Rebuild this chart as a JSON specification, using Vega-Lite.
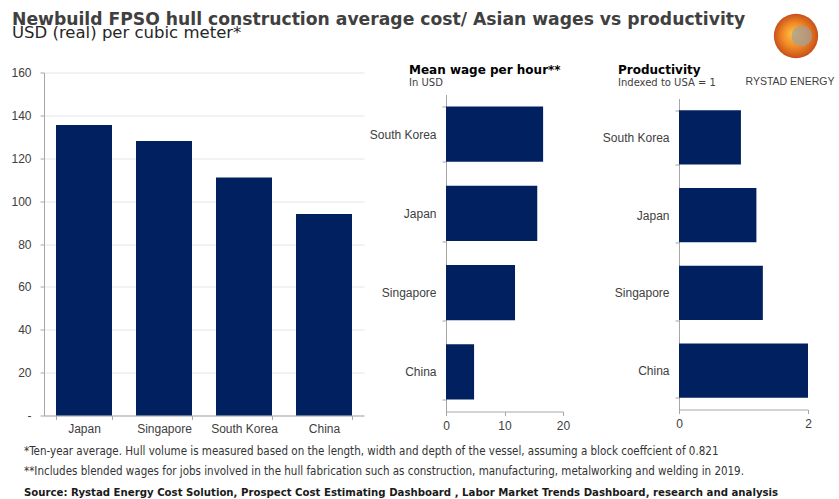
{
  "$schema": "https://vega.github.io/schema/vega-lite/v6.json",
  "padding": {"left": 10, "top": 8, "right": 4, "bottom": 0},
  "background": "white",
  "config": {
    "view": {"stroke": null},
    "font": "Liberation Sans",
    "axis": {
      "labelFont": "Liberation Sans",
      "labelFontSize": 12,
      "labelColor": "#404040",
      "domainColor": "#a6a6a6",
      "tickColor": "#a6a6a6",
      "tickSize": 4,
      "title": null,
      "grid": false
    },
    "title": {
      "font": "DejaVu Sans",
      "fontSize": 12,
      "fontWeight": "bold",
      "color": "#000000",
      "subtitleFont": "DejaVu Sans",
      "subtitleFontSize": 10,
      "subtitleColor": "#404040",
      "subtitlePadding": 1
    }
  },
  "datasets": {
    "cost": [
      {"country": "Japan", "cost": 135.5},
      {"country": "Singapore", "cost": 128},
      {"country": "South Korea", "cost": 111},
      {"country": "China", "cost": 94}
    ],
    "wage": [
      {"country": "South Korea", "wage": 16.6},
      {"country": "Japan", "wage": 15.6},
      {"country": "Singapore", "wage": 11.8},
      {"country": "China", "wage": 4.8}
    ],
    "prod": [
      {"country": "South Korea", "productivity": 0.96},
      {"country": "Japan", "productivity": 1.2},
      {"country": "Singapore", "productivity": 1.3},
      {"country": "China", "productivity": 2.0}
    ],
    "notes": [
      {"line": 1, "text": "*Ten-year average. Hull volume is measured based on the length, width and depth of the vessel, assuming a block coeffcient of 0.821"},
      {"line": 2, "text": "**Includes blended wages for jobs involved in the hull fabrication such as construction, manufacturing, metalworking and welding in 2019."}
    ],
    "source": [
      {"line": 3, "text": "Source: Rystad Energy Cost Solution, Prospect Cost Estimating Dashboard , Labor Market Trends Dashboard, research and analysis"}
    ],
    "header": [
      {
        "title": "Newbuild FPSO hull construction average cost/ Asian wages vs productivity",
        "subtitle": "USD (real) per cubic meter*",
        "brand": "RYSTAD ENERGY"
      }
    ]
  },
  "concat": [
    {
      "concat": [
        {
          "width": 791,
          "height": 80,
          "data": {"name": "header"},
          "layer": [
            {
              "mark": {"type": "text", "font": "DejaVu Sans", "fontSize": 17.2, "fontWeight": "bold", "color": "#404040", "align": "left", "baseline": "alphabetic"},
              "encoding": {
                "x": {"datum": -0.04046, "type": "quantitative", "scale": {"domain": [0, 1], "nice": false, "zero": false}, "axis": null},
                "y": {"datum": 0.7875, "type": "quantitative", "scale": {"domain": [0, 1], "nice": false, "zero": false}, "axis": null},
                "text": {"field": "title"}
              }
            },
            {
              "mark": {"type": "text", "font": "DejaVu Sans", "fontSize": 16.5, "color": "#262626", "align": "left", "baseline": "alphabetic"},
              "encoding": {
                "x": {"datum": -0.04046, "type": "quantitative"},
                "y": {"datum": 0.625, "type": "quantitative"},
                "text": {"field": "subtitle"}
              }
            },
            {
              "mark": {
                "type": "point",
                "shape": "circle",
                "filled": true,
                "size": 1963,
                "opacity": 1,
                "color": {
                  "gradient": "radial",
                  "x1": 0.42, "y1": 0.45, "r1": 0,
                  "x2": 0.5, "y2": 0.5, "r2": 0.5,
                  "stops": [
                    {"offset": 0, "color": "#ffc247"},
                    {"offset": 0.55, "color": "#f08a24"},
                    {"offset": 1, "color": "#c8501c"}
                  ]
                }
              },
              "encoding": {
                "x": {"datum": 0.9507, "type": "quantitative"},
                "y": {"datum": 0.65, "type": "quantitative"}
              }
            },
            {
              "mark": {"type": "point", "shape": "circle", "filled": true, "size": 420, "opacity": 0.7, "color": "#a0a0a0"},
              "encoding": {
                "x": {"datum": 0.958, "type": "quantitative"},
                "y": {"datum": 0.65, "type": "quantitative"}
              }
            },
            {
              "mark": {"type": "text", "font": "Liberation Sans", "fontSize": 10.5, "color": "#404040", "align": "center", "baseline": "middle"},
              "encoding": {
                "x": {"datum": 0.9431, "type": "quantitative"},
                "y": {"datum": 0.081, "type": "quantitative"},
                "text": {"field": "brand"}
              }
            }
          ]
        },
        {
          "concat": [
            {
              "width": 320,
              "height": 343,
              "data": {"name": "cost"},
              "mark": {"type": "bar", "color": "#00205f"},
              "encoding": {
                "x": {
                  "field": "country", "type": "nominal",
                  "sort": ["Japan", "Singapore", "South Korea", "China"],
                  "scale": {"paddingInner": 0.3, "paddingOuter": 0.15},
                  "axis": {"labelAngle": 0, "tickBand": "extent", "labelPadding": 4}
                },
                "y": {
                  "field": "cost", "type": "quantitative",
                  "scale": {"domain": [0, 160], "nice": false},
                  "axis": {
                    "values": [0, 20, 40, 60, 80, 100, 120, 140, 160],
                    "grid": true, "gridColor": "#e6e6e6",
                    "labelPadding": 9,
                    "labelExpr": "datum.value === 0 ? '-' : datum.label"
                  }
                }
              }
            },
            {
              "width": 117,
              "height": 339,
              "title": {"text": "Mean wage per hour**", "subtitle": "In USD", "anchor": "start", "frame": "group", "dx": -37, "dy": 27.5, "offset": 5},
              "data": {"name": "wage"},
              "mark": {"type": "bar", "color": "#00205f"},
              "encoding": {
                "y": {
                  "field": "country", "type": "nominal",
                  "sort": ["South Korea", "Japan", "Singapore", "China"],
                  "scale": {"paddingInner": 0.3, "paddingOuter": 0.15, "range": [22, 339]},
                  "axis": {"tickBand": "extent", "labelPadding": 6, "minExtent": 78}
                },
                "x": {
                  "field": "wage", "type": "quantitative",
                  "scale": {"domain": [0, 20], "nice": false},
                  "axis": {"values": [0, 10, 20], "format": "d", "labelFlush": false, "labelPadding": 5}
                }
              }
            },
            {
              "width": 129,
              "height": 337,
              "title": {"text": "Productivity", "subtitle": "Indexed to USA = 1", "anchor": "start", "frame": "group", "dx": -61, "dy": 27.5, "offset": 5},
              "data": {"name": "prod"},
              "mark": {"type": "bar", "color": "#00205f"},
              "encoding": {
                "y": {
                  "field": "country", "type": "nominal",
                  "sort": ["South Korea", "Japan", "Singapore", "China"],
                  "scale": {"paddingInner": 0.3, "paddingOuter": 0.15, "range": [26, 337]},
                  "axis": {"tickBand": "extent", "labelPadding": 6, "minExtent": 105}
                },
                "x": {
                  "field": "productivity", "type": "quantitative",
                  "scale": {"domain": [0, 2], "nice": false},
                  "axis": {"values": [0, 1, 2], "format": "d", "labelFlush": false, "labelPadding": 5}
                }
              }
            }
          ],
          "columns": 3,
          "align": "none",
          "spacing": 4
        }
      ],
      "columns": 1,
      "align": "none",
      "spacing": -24.5
    },
    {
      "width": 760,
      "height": 41,
      "layer": [
        {
          "data": {"name": "notes"},
          "mark": {"type": "text", "font": "DejaVu Sans Condensed", "fontSize": 11.5, "color": "#333333", "align": "left", "baseline": "middle"},
          "encoding": {
            "x": {"datum": -0.0263, "type": "quantitative", "scale": {"domain": [0, 1], "nice": false, "zero": false}, "axis": null},
            "y": {"field": "line", "type": "ordinal", "scale": {"type": "point", "padding": 0, "domain": [1, 2, 3]}, "axis": null},
            "text": {"field": "text"}
          }
        },
        {
          "data": {"name": "source"},
          "mark": {"type": "text", "font": "DejaVu Sans Condensed", "fontSize": 11.3, "fontWeight": "bold", "color": "#1a1a1a", "align": "left", "baseline": "middle"},
          "encoding": {
            "x": {"datum": -0.0263, "type": "quantitative"},
            "y": {"field": "line", "type": "ordinal"},
            "text": {"field": "text"}
          }
        }
      ]
    }
  ],
  "columns": 1,
  "align": "none",
  "spacing": 10.5
}
